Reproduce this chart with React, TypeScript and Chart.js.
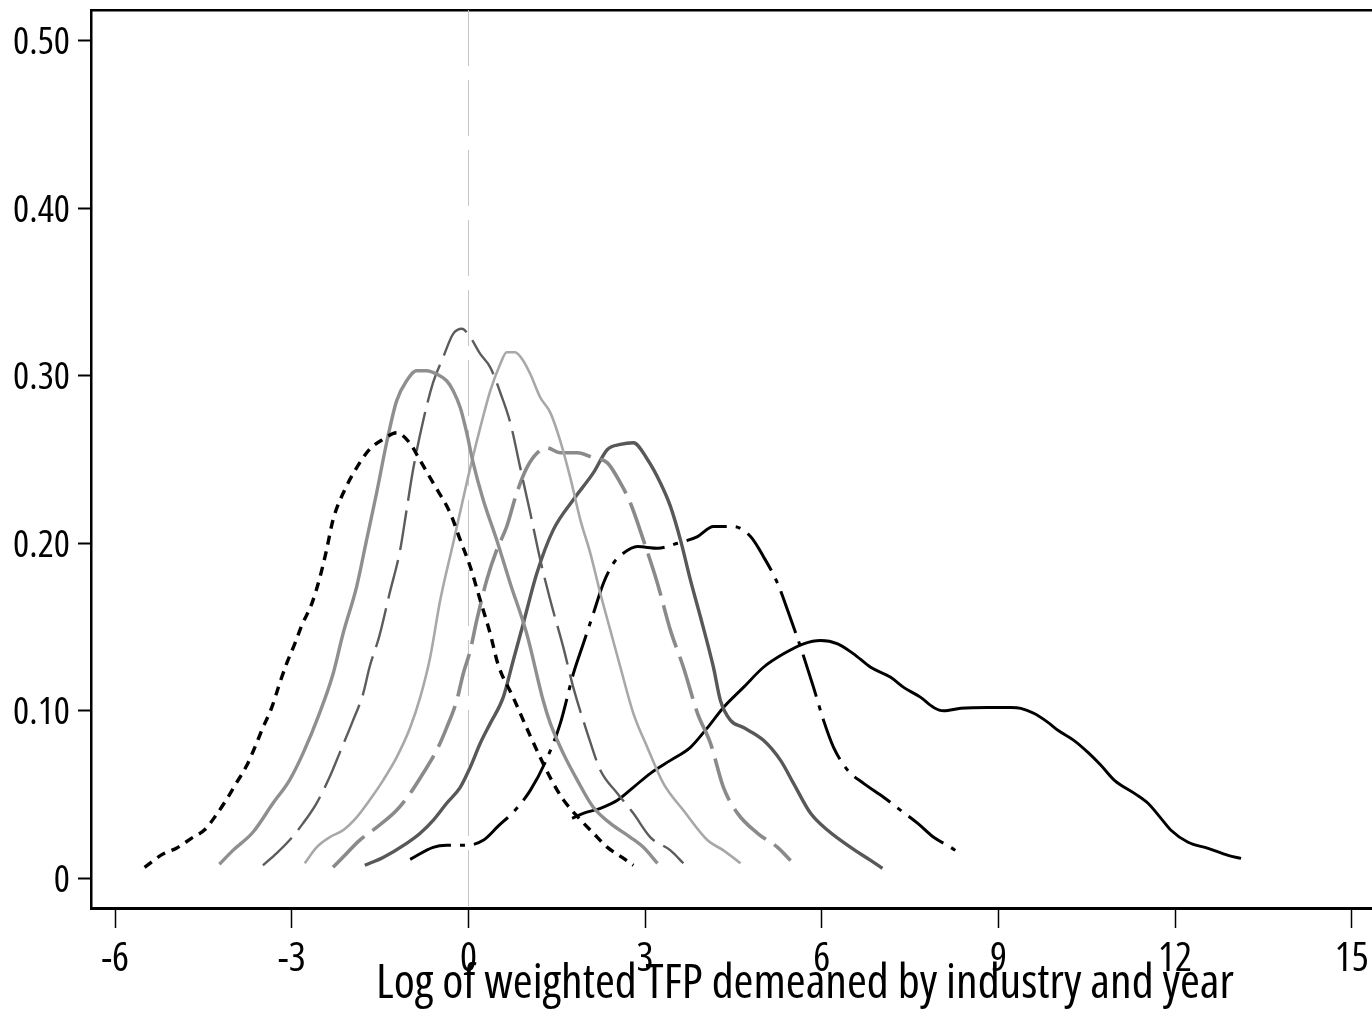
import React, { useEffect, useRef } from "react";
import { Chart, registerables } from "chart.js";

Chart.register(...registerables);

// ---- axis definitions ----
const X_TICKS = [-6, -3, 0, 3, 6, 9, 12, 15];
const Y_TICKS = [0, 0.1, 0.2, 0.3, 0.4, 0.5];
const X_MIN = -6.41;
const X_MAX = 17.84;
const Y_MIN = -0.0177;
const Y_MAX = 0.5183;
const X_TITLE = "Log of weighted TFP demeaned by industry and year";
const REF_X = 0;

// ---- density curves: [x, density] ----
const density1: [number, number][] = [
  [-5.5, 0.0066], [-5.2, 0.0143], [-4.96, 0.018], [-4.7, 0.024], [-4.48, 0.029],
  [-4.28, 0.038], [-4.11, 0.047], [-3.94, 0.057], [-3.77, 0.067], [-3.63, 0.078],
  [-3.49, 0.09], [-3.34, 0.102], [-3.21, 0.116], [-3.09, 0.128], [-2.95, 0.14],
  [-2.83, 0.151], [-2.66, 0.164], [-2.52, 0.18], [-2.41, 0.196], [-2.3, 0.214],
  [-2.1, 0.232], [-1.9, 0.245], [-1.68, 0.256], [-1.45, 0.262], [-1.22, 0.266],
  [-1.0, 0.26], [-0.83, 0.25], [-0.6, 0.236], [-0.31, 0.218], [-0.14, 0.202],
  [0.03, 0.186], [0.2, 0.166], [0.37, 0.146], [0.5, 0.128], [0.76, 0.108],
  [1.05, 0.085], [1.39, 0.06], [1.61, 0.047], [1.9, 0.035], [2.12, 0.027],
  [2.36, 0.0185], [2.61, 0.0125], [2.8, 0.0078],
];
const density2: [number, number][] = [
  [-4.23, 0.0084], [-4.0, 0.0167], [-3.66, 0.0275], [-3.32, 0.0448], [-3.04, 0.0585],
  [-2.81, 0.0746], [-2.53, 0.0985], [-2.3, 0.122], [-2.13, 0.146], [-1.9, 0.174],
  [-1.73, 0.202], [-1.56, 0.23], [-1.39, 0.26], [-1.22, 0.285], [-1.05, 0.297],
  [-0.88, 0.303], [-0.71, 0.303], [-0.54, 0.301], [-0.37, 0.297], [-0.26, 0.291],
  [-0.14, 0.281], [-0.03, 0.266], [0.08, 0.248], [0.25, 0.226], [0.48, 0.202],
  [0.71, 0.176], [0.99, 0.146], [1.27, 0.106], [1.39, 0.0925], [1.61, 0.0746],
  [1.85, 0.0585], [2.12, 0.0424], [2.41, 0.0328], [2.75, 0.0245], [2.97, 0.0185],
  [3.21, 0.009],
];
const density3: [number, number][] = [
  [-3.49, 0.0078], [-3.26, 0.0149], [-3.04, 0.0227], [-2.81, 0.0328], [-2.58, 0.0448],
  [-2.36, 0.0603], [-2.19, 0.0746], [-1.96, 0.0943], [-1.79, 0.11], [-1.68, 0.126],
  [-1.51, 0.145], [-1.34, 0.17], [-1.16, 0.196], [-1.05, 0.22], [-0.94, 0.244],
  [-0.77, 0.273], [-0.6, 0.296], [-0.43, 0.311], [-0.26, 0.325], [-0.11, 0.328],
  [0.03, 0.323], [0.2, 0.313], [0.37, 0.305], [0.54, 0.29], [0.71, 0.272],
  [0.88, 0.245], [1.05, 0.218], [1.22, 0.19], [1.39, 0.166], [1.61, 0.138],
  [1.78, 0.114], [2.02, 0.0866], [2.24, 0.0645], [2.53, 0.0507], [2.8, 0.0388],
  [3.09, 0.0245], [3.43, 0.0167], [3.65, 0.009],
];
const density4: [number, number][] = [
  [-2.78, 0.009], [-2.58, 0.0185], [-2.36, 0.0245], [-2.13, 0.0287], [-1.9, 0.0364],
  [-1.68, 0.0466], [-1.45, 0.0585], [-1.22, 0.0722], [-0.99, 0.09], [-0.82, 0.108],
  [-0.65, 0.132], [-0.48, 0.166], [-0.26, 0.2], [-0.03, 0.236], [0.2, 0.269],
  [0.37, 0.291], [0.54, 0.307], [0.65, 0.314], [0.79, 0.314], [0.93, 0.309],
  [1.05, 0.301], [1.22, 0.287], [1.39, 0.278], [1.56, 0.261], [1.73, 0.239],
  [1.9, 0.214], [2.07, 0.194], [2.24, 0.17], [2.41, 0.148], [2.58, 0.126],
  [2.8, 0.0985], [3.04, 0.078], [3.31, 0.0567], [3.65, 0.0406], [4.06, 0.0227],
  [4.33, 0.0167], [4.62, 0.009],
];
const density5: [number, number][] = [
  [-2.3, 0.0066], [-2.07, 0.0149], [-1.85, 0.0227], [-1.56, 0.0304], [-1.22, 0.0406],
  [-0.99, 0.0507], [-0.77, 0.0627], [-0.54, 0.0764], [-0.37, 0.09], [-0.2, 0.106],
  [-0.09, 0.122], [0.03, 0.136], [0.14, 0.154], [0.31, 0.178], [0.48, 0.196],
  [0.65, 0.21], [0.82, 0.23], [0.99, 0.245], [1.17, 0.254], [1.33, 0.257],
  [1.56, 0.254], [1.85, 0.254], [2.12, 0.251], [2.36, 0.248], [2.58, 0.236],
  [2.75, 0.224], [2.97, 0.202], [3.21, 0.176], [3.43, 0.148], [3.65, 0.126],
  [3.89, 0.0985], [4.11, 0.0806], [4.33, 0.0543], [4.57, 0.0388], [4.91, 0.0269],
  [5.25, 0.0185], [5.47, 0.0107],
];
const density6: [number, number][] = [
  [-1.76, 0.0078], [-1.45, 0.0125], [-1.05, 0.0209], [-0.82, 0.0269], [-0.6, 0.0346],
  [-0.37, 0.0448], [-0.14, 0.0543], [0.03, 0.0663], [0.2, 0.0806], [0.37, 0.0925],
  [0.59, 0.108], [0.76, 0.13], [0.93, 0.152], [1.16, 0.182], [1.44, 0.208],
  [1.78, 0.226], [2.12, 0.242], [2.36, 0.256], [2.58, 0.259], [2.8, 0.26],
  [3.04, 0.25], [3.26, 0.236], [3.43, 0.222], [3.6, 0.202], [3.77, 0.178],
  [3.94, 0.156], [4.16, 0.126], [4.28, 0.106], [4.45, 0.0943], [4.67, 0.09],
  [5.01, 0.0824], [5.3, 0.0704], [5.52, 0.0567], [5.81, 0.0388], [6.1, 0.0287],
  [6.49, 0.0185], [6.83, 0.0107], [7.03, 0.006],
];
const density7: [number, number][] = [
  [-0.99, 0.0113], [-0.6, 0.0185], [-0.37, 0.0197], [-0.03, 0.0197], [0.25, 0.0227],
  [0.5, 0.031], [0.79, 0.0406], [1.05, 0.0525], [1.3, 0.069], [1.56, 0.0925],
  [1.78, 0.122], [1.95, 0.14], [2.12, 0.158], [2.29, 0.176], [2.46, 0.188],
  [2.63, 0.194], [2.87, 0.198], [3.21, 0.197], [3.55, 0.2], [3.89, 0.204],
  [4.16, 0.21], [4.5, 0.21], [4.79, 0.204], [5.01, 0.192], [5.25, 0.176],
  [5.42, 0.16], [5.64, 0.138], [5.86, 0.114], [6.03, 0.0943], [6.2, 0.0782],
  [6.44, 0.0645], [6.71, 0.0567], [7.05, 0.0484], [7.34, 0.0406], [7.63, 0.0328],
  [7.9, 0.0245], [8.19, 0.0185], [8.39, 0.0137],
];
const density8: [number, number][] = [
  [1.76, 0.0358], [1.95, 0.0388], [2.24, 0.0418], [2.53, 0.0466], [2.8, 0.0543],
  [3.09, 0.0627], [3.43, 0.0704], [3.77, 0.0782], [4.06, 0.09], [4.33, 0.102],
  [4.67, 0.114], [5.01, 0.126], [5.35, 0.134], [5.69, 0.14], [5.98, 0.142],
  [6.27, 0.14], [6.54, 0.134], [6.83, 0.126], [7.17, 0.12], [7.39, 0.114],
  [7.68, 0.108], [7.9, 0.102], [8.07, 0.1], [8.36, 0.1015], [8.82, 0.102],
  [9.21, 0.102], [9.38, 0.1015], [9.6, 0.0985], [9.84, 0.0931], [10.01, 0.0884],
  [10.28, 0.0824], [10.52, 0.0752], [10.74, 0.0675], [10.97, 0.0585], [11.31, 0.0507],
  [11.54, 0.0448], [11.76, 0.0358], [11.93, 0.0287], [12.22, 0.0215], [12.56, 0.0179],
  [12.9, 0.0137], [13.12, 0.0119],
];

// Open Sans (variable width) rendered condensed via the font-stretch keyword
const FONT = "'Open Sans', 'Liberation Sans', sans-serif";
const STRETCH = "condensed";

const CURVES = [
  { data: density1, color: "#000000", width: 3.4, dash: [9, 7] },
  { data: density2, color: "#8f8f8f", width: 3.4, dash: [] as number[] },
  { data: density3, color: "#5c5c5c", width: 2.4, dash: [40, 10] },
  { data: density4, color: "#a8a8a8", width: 2.6, dash: [] as number[] },
  { data: density5, color: "#8a8a8a", width: 3.6, dash: [44, 10] },
  { data: density6, color: "#585858", width: 3.4, dash: [] as number[] },
  { data: density7, color: "#000000", width: 3, dash: [44, 9, 5, 9] },
  { data: density8, color: "#000000", width: 2.9, dash: [] as number[] },
];

export default function App() {
  const ref = useRef<HTMLCanvasElement>(null);

  useEffect(() => {
    document.body.style.margin = "0";
    document.body.style.overflow = "hidden";
    const canvas = ref.current;
    if (!canvas) return;

    const datasets: any[] = CURVES.map((c, i) => ({
      label: "curve" + (i + 1),
      data: c.data.map(([x, y]) => ({ x, y })),
      borderColor: c.color,
      borderWidth: c.width,
      borderDash: c.dash,
      borderCapStyle: "butt",
      borderJoinStyle: "round",
      pointRadius: 0,
      fill: false,
      cubicInterpolationMode: "monotone",
      order: 0,
    }));
    datasets.push({
      label: "ref",
      data: [
        { x: REF_X, y: Y_MAX },
        { x: REF_X, y: Y_MIN },
      ],
      borderColor: "#c4c4c4",
      borderWidth: 1,
      borderDash: [56, 14],
      pointRadius: 0,
      fill: false,
      tension: 0,
      order: 1,
    });

    const chart = new Chart(canvas, {
      type: "line",
      data: { datasets },
      options: {
        animation: false,
        responsive: false,
        devicePixelRatio: 1,
        layout: { padding: 0 },
        plugins: {
          legend: { display: false },
          tooltip: { enabled: false },
        },
        scales: {
          x: {
            type: "linear",
            position: "bottom",
            min: X_MIN,
            max: X_MAX,
            afterBuildTicks: (s: any) => {
              s.ticks = X_TICKS.map((v) => ({ value: v }));
            },
            afterFit: (s: any) => {
              s.height = 108;
              s.paddingLeft = 0;
              s.paddingRight = 0;
            },
            grid: {
              display: true,
              drawOnChartArea: false,
              drawTicks: true,
              tickLength: 20,
              tickWidth: 1.5,
              tickColor: "#000",
            },
            border: { display: true, width: 3, color: "#000" },
            ticks: {
              autoSkip: false,
              maxRotation: 0,
              padding: 8,
              color: "#000",
              font: { family: FONT, size: 40, weight: STRETCH },
              callback: (v: any) => String(v),
            },
            title: {
              display: true,
              text: X_TITLE,
              color: "#000",
              font: { family: FONT, size: 48, weight: STRETCH },
              padding: { top: 0, bottom: 3 },
            },
          },
          xTop: {
            type: "linear",
            position: "top",
            min: X_MIN,
            max: X_MAX,
            afterFit: (s: any) => {
              s.height = 10;
              s.paddingLeft = 0;
              s.paddingRight = 0;
            },
            grid: { display: false },
            ticks: { display: false },
            border: { display: true, width: 2.5, color: "#000" },
          },
          y: {
            type: "linear",
            position: "left",
            min: Y_MIN,
            max: Y_MAX,
            afterBuildTicks: (s: any) => {
              s.ticks = Y_TICKS.map((v) => ({ value: v }));
            },
            afterFit: (s: any) => {
              s.width = 91;
              s.paddingTop = 0;
              s.paddingBottom = 0;
            },
            grid: {
              display: true,
              drawOnChartArea: false,
              drawTicks: true,
              tickLength: 13,
              tickWidth: 2,
              tickColor: "#000",
            },
            border: { display: true, width: 2.5, color: "#000" },
            ticks: {
              padding: 8,
              labelOffset: 2.5,
              color: "#000",
              font: { family: FONT, size: 38, weight: STRETCH },
              callback: (v: any) => (Number(v) === 0 ? "0" : Number(v).toFixed(2)),
            },
          },
        },
      } as any,
    });

    return () => chart.destroy();
  }, []);

  return (
    <div style={{ width: 1372, height: 1016, overflow: "hidden", position: "relative" }}>
      <canvas
        ref={ref}
        width={1519}
        height={1016}
        style={{ display: "block", width: 1519, height: 1016 }}
      />
    </div>
  );
}
